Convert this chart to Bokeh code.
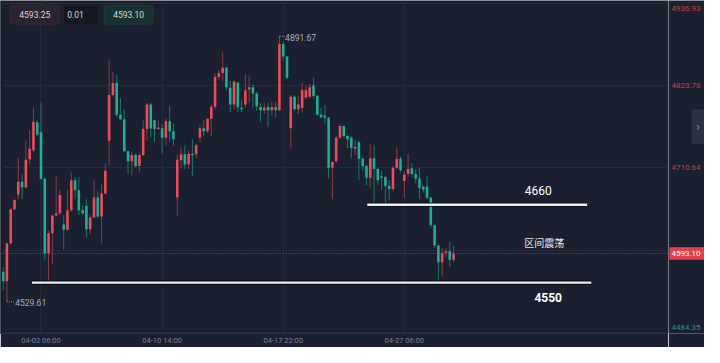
from bokeh.plotting import figure
from bokeh.layouts import row
from bokeh.models import FixedTicker, Label, BoxAnnotation, Span, ColumnDataSource
from bokeh.embed import file_html
from bokeh.resources import INLINE
from bokeh.core.properties import value

# ---------------- data ----------------
opens = [
    4568.0, 4555.0, 4607.0, 4653.8, 4674.2, 4691.5, 4683.7, 4722.7, 4735.0, 4773.5,
    4759.7, 4695.9, 4593.2, 4620.9, 4645.2, 4648.2, 4633.0, 4625.7, 4652.5, 4693.7,
    4679.8, 4652.5, 4658.2, 4626.5, 4642.6, 4669.9, 4643.9, 4675.5, 4748.0, 4810.8,
    4827.3, 4783.9, 4777.4, 4733.7, 4719.7, 4728.5, 4713.2, 4728.5, 4764.0, 4797.8,
    4776.1, 4764.0, 4765.3, 4752.3, 4774.8, 4761.0, 4669.9, 4721.1, 4729.5, 4715.8,
    4730.2, 4729.5, 4752.3, 4765.3, 4761.0, 4778.3, 4794.8, 4835.5, 4841.1, 4848.5,
    4820.8, 4797.8, 4827.7, 4793.5, 4797.8, 4818.6, 4821.6, 4813.0, 4794.3, 4790.0,
    4794.3, 4790.0, 4794.3, 4790.0, 4881.0, 4863.7, 4765.3, 4808.6, 4791.3, 4793.5,
    4807.3, 4808.6, 4823.8, 4809.9, 4783.9, 4782.6, 4779.6, 4711.0, 4719.7, 4752.3,
    4768.3, 4754.5, 4752.3, 4737.0, 4745.8, 4723.3, 4713.2, 4697.2, 4724.0, 4709.0,
    4698.9, 4698.0, 4685.9, 4681.6, 4711.0, 4723.3, 4692.8, 4702.4, 4710.3, 4702.4,
    4696.0, 4684.6, 4685.0, 4669.9, 4632.0, 4604.0, 4581.0, 4594.0, 4596.2, 4584.5,
]
highs = [
    4574.5, 4607.0, 4654.7, 4667.7, 4724.0, 4702.4, 4748.0, 4763.1, 4793.5, 4776.1,
    4800.0, 4697.6, 4624.4, 4646.0, 4700.2, 4680.7, 4646.0, 4680.7, 4704.5, 4698.0,
    4698.0, 4659.0, 4667.7, 4646.0, 4693.7, 4678.5, 4689.4, 4717.5, 4858.5, 4843.3,
    4839.0, 4806.5, 4791.3, 4735.0, 4732.8, 4730.5, 4730.5, 4776.1, 4800.0, 4800.0,
    4777.0, 4776.1, 4771.8, 4778.3, 4795.6, 4771.8, 4728.5, 4739.3, 4741.5, 4735.4,
    4750.1, 4743.5, 4769.6, 4776.1, 4778.9, 4797.8, 4841.1, 4845.5, 4869.3, 4849.8,
    4830.3, 4830.3, 4829.0, 4804.3, 4839.0, 4836.8, 4826.0, 4815.1, 4800.0, 4800.0,
    4800.0, 4802.1, 4802.1, 4891.67, 4884.5, 4865.0, 4810.8, 4810.8, 4808.6, 4828.1,
    4823.8, 4826.0, 4834.6, 4810.8, 4793.5, 4796.9, 4780.5, 4719.7, 4754.5, 4771.8,
    4769.6, 4756.6, 4754.5, 4750.1, 4748.0, 4726.3, 4715.5, 4743.5, 4741.5, 4711.0,
    4706.7, 4700.2, 4693.7, 4713.2, 4739.3, 4726.3, 4706.7, 4730.5, 4717.5, 4709.0,
    4711.0, 4687.2, 4700.2, 4670.3, 4632.6, 4605.0, 4600.5, 4600.1, 4609.2, 4604.0,
]
lows = [
    4542.0, 4529.61, 4604.9, 4652.5, 4667.7, 4667.7, 4682.9, 4715.5, 4732.8, 4754.5,
    4693.7, 4583.2, 4552.9, 4578.9, 4644.3, 4646.0, 4598.4, 4624.4, 4650.4, 4667.7,
    4646.0, 4646.0, 4615.7, 4620.0, 4641.7, 4641.7, 4607.0, 4674.2, 4713.2, 4808.6,
    4780.5, 4776.1, 4732.8, 4702.4, 4700.2, 4711.0, 4704.5, 4727.0, 4748.0, 4752.3,
    4745.8, 4763.1, 4730.5, 4741.5, 4745.8, 4741.5, 4643.9, 4709.3, 4709.0, 4709.3,
    4700.2, 4724.0, 4745.8, 4754.5, 4758.8, 4754.5, 4791.3, 4832.5, 4830.3, 4817.3,
    4787.0, 4791.3, 4787.4, 4787.4, 4793.5, 4800.0, 4793.5, 4789.1, 4774.0, 4784.8,
    4767.5, 4782.6, 4780.5, 4789.1, 4858.5, 4832.5, 4737.0, 4789.1, 4784.8, 4787.0,
    4804.3, 4806.5, 4806.5, 4782.6, 4778.3, 4771.8, 4696.0, 4667.7, 4717.5, 4750.1,
    4752.3, 4737.0, 4724.0, 4728.5, 4693.7, 4706.7, 4687.2, 4682.9, 4663.4, 4687.2,
    4680.7, 4659.0, 4665.5, 4678.5, 4709.0, 4704.5, 4669.9, 4698.0, 4698.0, 4689.4,
    4667.7, 4676.8, 4667.7, 4628.7, 4600.5, 4554.6, 4561.1, 4588.4, 4574.5, 4581.9,
]
closes = [
    4555.0, 4607.0, 4653.8, 4666.4, 4691.5, 4684.2, 4722.0, 4737.0, 4774.0, 4756.6,
    4695.9, 4593.2, 4620.9, 4645.2, 4648.2, 4673.3, 4625.7, 4652.5, 4693.7, 4679.8,
    4652.5, 4648.2, 4626.5, 4642.6, 4669.9, 4643.9, 4675.5, 4706.7, 4810.8, 4827.3,
    4783.9, 4777.4, 4733.7, 4719.7, 4728.5, 4713.2, 4728.5, 4764.0, 4797.8, 4764.9,
    4764.0, 4766.2, 4752.3, 4774.8, 4761.0, 4750.1, 4722.0, 4729.5, 4715.2, 4730.2,
    4728.2, 4741.9, 4765.3, 4761.0, 4778.3, 4794.8, 4835.5, 4841.1, 4848.5, 4821.6,
    4797.8, 4829.4, 4793.9, 4791.3, 4817.3, 4821.6, 4813.0, 4795.6, 4790.0, 4793.5,
    4790.0, 4794.3, 4790.0, 4881.0, 4863.7, 4834.6, 4808.6, 4791.3, 4797.8, 4817.3,
    4817.3, 4821.6, 4809.5, 4783.9, 4780.5, 4779.6, 4711.0, 4718.8, 4752.3, 4768.3,
    4754.5, 4750.1, 4738.0, 4739.3, 4723.3, 4713.2, 4697.2, 4724.0, 4709.0, 4693.7,
    4697.2, 4685.9, 4681.6, 4711.0, 4723.3, 4707.6, 4701.5, 4709.0, 4702.4, 4696.0,
    4682.9, 4680.7, 4669.9, 4632.0, 4604.0, 4581.0, 4594.0, 4596.2, 4584.5, 4593.1,
]

# time axis: candle index -> label
time_ticks = [10, 42, 74, 106]
time_labels = ["04-02 06:00", "04-10 14:00", "04-17 22:00", "04-27 06:00"]

# price scale
price_grid = [4936.93, 4823.78, 4710.64, 4597.50, 4484.35]
price_label_values = [4930.43, 4823.78, 4710.64]     # top label sits just inside the top edge
price_label_texts = ["4936.93", "4823.78", "4710.64"]
price_bottom_value = 4490.9                          # bottom label sits just inside the bottom edge
price_bottom_text = "4484.35"
last_price = 4593.10
last_price_text = "4593.10"
bid_price = "4593.25"
ask_price = "4593.10"
step_text = "0.01"

# drawn annotations
level_values = [4660.0, 4553.0]
level_starts = [96.2, 7.6]
level_ends = [154.3, 155.4]
note_texts = ["4660", "区间震荡", "4550"]
note_x = [141.4, 143.0, 144.0]
note_y = [4679.4, 4607.9, 4532.5]

high_text = "4891.67"
high_value = 4891.67
high_index = 73
low_text = "4529.61"
low_value = 4529.61
low_index = 1

# ---------------- styling ----------------
BG = "#1b2030"
GRID = "#252b3a"
UP = "#eb4d5b"
DOWN = "#1eb095"
UP_WICK = "#8e3a48"
DOWN_WICK = "#17796a"
AX_TXT = "#7c8190"
AX_LINE = "#2a3040"
FONT = "Roboto"
BOTTOM = 12

idx = list(range(len(opens)))
tops = [max(o, c) for o, c in zip(opens, closes)]
bots = [min(o, c) for o, c in zip(opens, closes)]
fills = [UP if c >= o else DOWN for o, c in zip(opens, closes)]
wicks = [UP_WICK if c >= o else DOWN_WICK for o, c in zip(opens, closes)]
src = ColumnDataSource(dict(x=idx, high=highs, low=lows, top=tops, bottom=bots,
                            fill=fills, wick=wicks))

# ---------------- main chart ----------------
p = figure(width=668, height=347, x_range=(-0.7, 175.8), y_range=(4483.0, 4940.83),
           y_axis_location=None, output_backend="svg", toolbar_location=None,
           background_fill_color=BG, border_fill_color=BG,
           min_border_left=0, min_border_top=0, min_border_right=0,
           min_border_bottom=BOTTOM)
p.outline_line_color = None

p.xgrid.ticker = FixedTicker(ticks=time_ticks)
p.ygrid.ticker = FixedTicker(ticks=price_grid)
p.grid.grid_line_color = GRID
p.grid.grid_line_width = 1

p.xaxis.ticker = FixedTicker(ticks=time_ticks)
p.xaxis.major_label_overrides = {t: l for t, l in zip(time_ticks, time_labels)}
p.xaxis.major_tick_line_color = None
p.xaxis.minor_tick_line_color = None
p.xaxis.major_tick_out = 0
p.xaxis.minor_tick_out = 0
p.xaxis.major_tick_in = 0
p.xaxis.axis_line_color = AX_LINE
p.xaxis.major_label_text_color = AX_TXT
p.xaxis.major_label_text_font = FONT
p.xaxis.major_label_text_font_size = "7.5px"
p.xaxis.major_label_standoff = 2

# dark left edge
p.add_layout(Span(location=-0.55, dimension="height", line_color="#11141d", line_width=2))

# candles
p.segment(x0="x", y0="low", x1="x", y1="high", line_color="wick", line_width=1, source=src)
p.vbar(x="x", width=0.68, top="top", bottom="bottom", fill_color="fill",
       line_color=None, source=src)

# current price dotted line
p.add_layout(Span(location=last_price, dimension="width", line_color="#d9424f",
                  line_dash="1 2", line_width=1, line_alpha=0.85))

# drawn levels (shadow + white)
p.segment(x0=level_starts, y0=level_values, x1=level_ends, y1=level_values,
          line_color="#07090d", line_width=4.5, line_alpha=0.75)
p.segment(x0=level_starts, y0=level_values, x1=level_ends, y1=level_values,
          line_color="#f0f0f0", line_width=2.3)

# notes
p.text(x=note_x[0:1], y=note_y[0:1], text=note_texts[0:1], text_font=value(FONT),
       text_font_size="12px", text_color="#ffffff", text_align="center",
       text_baseline="middle")
p.text(x=note_x[1:2], y=note_y[1:2], text=note_texts[1:2],
       text_font=value("Noto Sans CJK SC"), text_font_size="10px",
       text_color="#e8e8e8", text_align="center", text_baseline="middle")
p.text(x=note_x[2:3], y=note_y[2:3], text=note_texts[2:3], text_font=value(FONT),
       text_font_size="12px", text_font_style="bold", text_color="#ffffff",
       text_align="center", text_baseline="middle")

# high / low markers
p.segment(x0=[high_index, high_index + 0.1], y0=[high_value, high_value],
          x1=[high_index + 0.1, high_index + 1.4], y1=[high_value - 1.5, high_value],
          line_color="#8a8e99", line_width=1, line_dash="1 1")
p.text(x=[high_index + 1.5], y=[high_value - 1.3], text=[high_text], text_font=value(FONT),
       text_font_size="8.5px", text_color="#a9adb8", text_baseline="middle")
p.segment(x0=[low_index, low_index], y0=[low_value, low_value - 3.0],
          x1=[low_index, low_index + 2.0], y1=[low_value - 3.0, low_value - 3.0],
          line_color="#8a8e99", line_width=1, line_dash="1 1")
p.text(x=[low_index + 2.2], y=[low_value - 3.6], text=[low_text], text_font=value(FONT),
       text_font_size="8.5px", text_color="#a9adb8", text_baseline="middle")

# top-left widgets
w_top, w_bot = 4934.3, 4908.3
p.add_layout(BoxAnnotation(left=1.9, right=14.8, top=w_top, bottom=w_bot,
                           fill_color="#2c2331", fill_alpha=1, line_color="#7a3342",
                           line_width=1, border_radius=3, level="overlay"))
p.add_layout(BoxAnnotation(left=16.1, right=25.1, top=w_top, bottom=w_bot,
                           fill_color="#141823", fill_alpha=1, line_color=None,
                           border_radius=3, level="overlay"))
p.add_layout(BoxAnnotation(left=26.7, right=39.6, top=w_top, bottom=w_bot,
                           fill_color="#173230", fill_alpha=1, line_color="#1d6f62",
                           line_width=1, border_radius=3, level="overlay"))
for tx, tt in zip([8.35, 19.1, 33.15], [bid_price, step_text, ask_price]):
    p.add_layout(Label(x=tx, y=(w_top + w_bot) / 2, text=tt, text_font=FONT,
                       text_font_size="8.5px", text_color="#d3d6dd", text_align="center",
                       text_baseline="middle", level="overlay"))
p.scatter(x=[24.1, 24.1], y=[4926.8, 4915.8], marker=["triangle", "inverted_triangle"],
          size=3.5, fill_color="#6b7080", line_color=None, level="overlay")

# ---------------- price scale column (shares the price range) ----------------
s = figure(width=36, height=347, x_range=(0, 36), y_range=p.y_range,
           x_axis_location=None, y_axis_location=None, output_backend="svg",
           toolbar_location=None, background_fill_color=BG, border_fill_color=BG,
           min_border_left=0, min_border_top=0, min_border_right=0,
           min_border_bottom=BOTTOM)
s.outline_line_color = None
s.grid.visible = False
s.add_layout(Span(location=0.5, dimension="height", line_color=AX_LINE, line_width=1))

s.text(x=[3] * len(price_label_values), y=price_label_values, text=price_label_texts,
       text_font=value(FONT), text_font_size="8px", text_color="#c4404e",
       text_baseline="middle")
s.text(x=[3], y=[price_bottom_value], text=[price_bottom_text], text_font=value(FONT),
       text_font_size="8px", text_color="#1e9e86", text_baseline="middle")

# current price tag
s.quad(left=[0], right=[36], top=[last_price + 8.6], bottom=[last_price - 8.6],
       fill_color="#e0404e", line_color=None)
s.text(x=[3], y=[last_price], text=[last_price_text], text_font=value(FONT),
       text_font_size="8px", text_color="#ffffff", text_baseline="middle")

# side collapse tab
s.quad(left=[23], right=[36], top=[4791.3], bottom=[4743.1],
       fill_color="#2b3140", line_color=None)
s.text(x=[29.5], y=[4767.2], text=["›"], text_font=value(FONT), text_font_size="13px",
       text_color="#8a8f9c", text_align="center", text_baseline="middle")

layout = row(p, s, spacing=0)
open("out.html", "w").write(file_html(layout, INLINE))
